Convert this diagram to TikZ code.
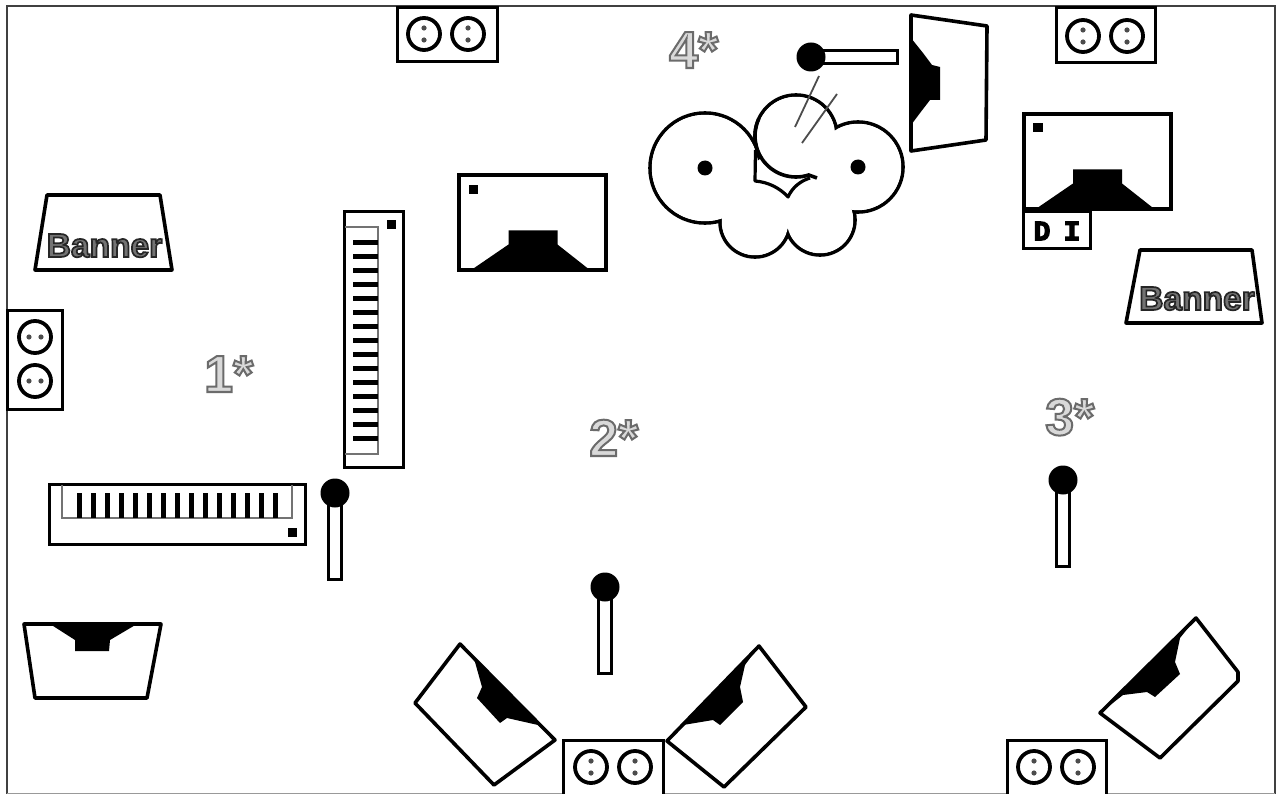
\documentclass[tikz,border=0pt]{standalone}
\usepackage{fontspec}
\setmainfont{Liberation Sans}
\newfontfamily\dimono[LetterSpace=47]{Liberation Mono}
\newcommand{\outl}[4]{\special{pdf:code 2 Tr #1 w #2 G #3 g}#4\special{pdf:code 0 Tr 0 G 0 g}}
\tikzset{
  x=1pt,y=-1pt,
  frameline/.style={draw=black!75,line width=1.3pt},
  shapeline/.style={draw=black,line width=3.6pt,line join=round,fill=white},
  thinbox/.style={draw=black,line width=3pt,fill=white},
  faint/.style={draw=black!55,line width=1.2pt},
  numlabel/.style={font=\bfseries\fontsize{52}{52}\selectfont,anchor=base west,inner sep=0pt},
  bannerlabel/.style={font=\bfseries\fontsize{33.5}{34}\selectfont,inner sep=0pt,anchor=base},
  pics/outlet/.style={code={
    \draw[line width=3.8pt] (0,0) circle[radius=16];
    \fill[black!70] (#1:6) circle[radius=2.6] (#1+180:6) circle[radius=2.6];
  }},
  pics/mic/.style args={#1}{code={
    \draw[thinbox] (-6.5,0) rectangle (6.5,#1);
    \fill (0,0) circle[radius=14.5];
  }},
  pics/monitor/.style={code={
    \draw[shapeline,line width=4pt,line join=miter] (-73.5,-47.5) rectangle (73.5,47.5);
    \fill (-62,48) -- (-24,22) -- (-24,8) -- (25,8) -- (25,22) -- (58,48) -- cycle;
  }},
}
\begin{document}
\begin{tikzpicture}
\useasboundingbox (0,0) rectangle (1276,794);
\fill[white] (0,0) rectangle (1276,794);
\draw[frameline] (7,794) -- (7,6) -- (1275,6) -- (1275,794);
\draw[draw=black!40,line width=1.2pt] (7,793.5) -- (1275,793.5);

% outlets
\draw[thinbox] (397,8) rectangle (497,62);
\pic at (424,34) {outlet=90}; \pic at (468,34) {outlet=90};
\draw[thinbox] (1056,8) rectangle (1155,63);
\pic at (1083,36) {outlet=90}; \pic at (1127,36) {outlet=90};
\draw[thinbox] (563,740) rectangle (663,795);
\pic at (591,767) {outlet=90}; \pic at (635,767) {outlet=90};
\draw[thinbox] (1007,740) rectangle (1106,795);
\pic at (1034,767) {outlet=90}; \pic at (1078,767) {outlet=90};
\draw[thinbox] (7,310) rectangle (62,409);
\pic at (35,337) {outlet=0}; \pic at (35,381) {outlet=0};

% banners
\draw[shapeline] (47,195) -- (160,195) -- (172,270) -- (35,270) -- cycle;
\node[bannerlabel] (bannerA) at (104.5,257) {\outl{1.7}{0.15}{0.45}{Banner}};
\draw[shapeline] (1140,250) -- (1252,250) -- (1262,323) -- (1126,323) -- cycle;
\node[bannerlabel] (bannerB) at (1197,310) {\outl{1.7}{0.15}{0.45}{Banner}};

% number labels
\node[numlabel] (one) at (204,392) {\outl{2}{0.42}{0.85}{1*}};
\node[numlabel] (two) at (589,456) {\outl{2}{0.42}{0.85}{2*}};
\node[numlabel] (three) at (1045,435) {\outl{2}{0.42}{0.85}{3*}};
\node[numlabel] (four) at (669,68) {\outl{2}{0.42}{0.85}{4*}};

% vertical keyboard
\draw[thinbox] (344,212) rectangle (403,467);
\draw[faint] (345,227) -- (378,227) -- (378,454) -- (345,454);
\foreach \n in {0,...,14} \fill (353,240+14*\n) rectangle (378,245+14*\n);
\fill (387,220) rectangle (396,229);
% horizontal keyboard
\draw[thinbox] (49,484) rectangle (305,544);
\draw[faint] (62,485) -- (62,518) -- (292,518) -- (292,485);
\foreach \n in {0,...,14} \fill (76.5+14*\n,493) rectangle (81.5+14*\n,518);
\fill (288,528) rectangle (297,537);

% mics
\pic at (335,493) {mic={86}};
\pic at (605,587) {mic={86}};
\pic at (1063,480) {mic={86}};
\begin{scope}[shift={(811,57)}]
  \draw[thinbox] (0,-6.5) rectangle (86,6.5);
  \fill (0,0) circle[radius=14.5];
\end{scope}

% monitors
\pic at (532.5,222.5) {monitor};
\fill (468.5,185) rectangle (478,194.5);
\pic at (1097,161.5) {monitor};
\fill (1033,123) rectangle (1043,132.5);
\draw[thinbox] (1023,212) rectangle (1090,249);
\node[font=\dimono\bfseries\fontsize{28}{28}\selectfont,inner sep=0pt] (di) at (1057,231) {\outl{1.2}{0}{0}{DI}};

% bottom-left wedge
\draw[shapeline] (24,624) -- (161,624) -- (147,698) -- (35,698) -- cycle;
\fill (50,624) -- (75,640) -- (75,651) -- (109,651) -- (110,640) -- (137,624) -- cycle;
% top wedge
\draw[shapeline] (911,15) -- (987,26) -- (986,140) -- (911,151) -- cycle;
\fill (911,38) -- (923,53) -- (932,65) -- (940,67) -- (940,100) -- (930,100) -- (920,113) -- (911,125) -- cycle;

% angled left
\draw[shapeline] (460,644) -- (555,740) -- (494,785) -- (415,703) -- cycle;
\fill (460,644) -- (475,662) -- (482,687) -- (477,698) -- (500,723) -- (507,718) -- (538,725) -- (555,740) -- cycle;
% angled right
\draw[shapeline] (759,646) -- (806,707) -- (724,787) -- (667,741) -- cycle;
\fill (759,646) -- (745,665) -- (740,687) -- (743,702) -- (720,725) -- (713,720) -- (683,725) -- (667,741) -- cycle;
% far right
\draw[shapeline] (1196,618) -- (1238,672) -- (1238,681) -- (1160,758) -- (1100,713) -- cycle;
\fill (1196,618) -- (1180,638) -- (1175,662) -- (1180,674) -- (1155,697) -- (1147,692) -- (1123,695) -- (1100,713) -- cycle;

% cloud
\begin{scope}[line width=3.6pt]
  \draw (705,168) circle[radius=55] (858,167) circle[radius=45]
        (755,222) circle[radius=35] (820,220) circle[radius=35]
        (796,136) circle[radius=41];
  \fill[white] (705,168) circle[radius=53.2] (858,167) circle[radius=43.2]
        (755,222) circle[radius=33.2] (820,220) circle[radius=33.2]
        (796,136) circle[radius=39.2];
  \fill[white] (745,170) -- (800,130) -- (850,170) -- (850,205) -- (790,225) -- (730,215) -- cycle;
  \draw[line width=3.2pt,line join=round] (755.5,150) -- (755,181) .. controls (768,182) and (780,188) .. (788,197)
        .. controls (792,188) and (800,181) .. (810,178);
  \draw plot[smooth,domain=205:72,samples=30] ({796+41*cos(\x)},{136+41*sin(\x)}) -- (817,178);
\end{scope}
\fill (705,168) circle[radius=7.5] (858,167) circle[radius=7.5];
\draw[draw=black!70,line width=1.8pt] (819,76) -- (795,127) (837,94) -- (802,143);
\end{tikzpicture}
\end{document}
